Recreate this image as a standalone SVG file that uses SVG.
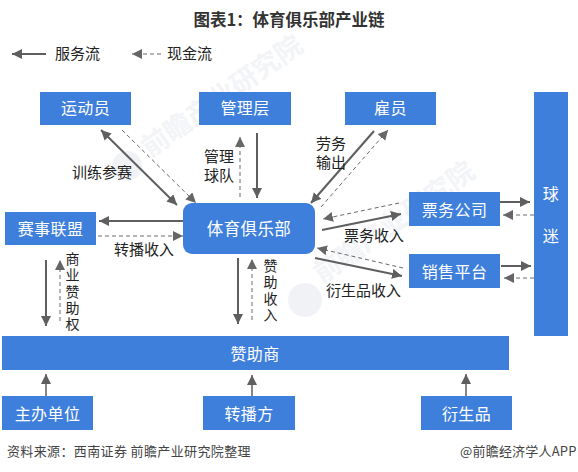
<svg xmlns="http://www.w3.org/2000/svg" width="578" height="472" viewBox="0 0 578 472">
<style>
text{font-family:"Noto Sans CJK SC","Liberation Sans",sans-serif}
.b{fill:#3f7fdc}
.n{fill:#fff;font-size:16px;text-anchor:middle;letter-spacing:.4px}
.l{fill:#222;font-size:15px}
.v{fill:#222;font-size:14px;text-anchor:middle}
.s{stroke:#5f5f5f;stroke-width:2;fill:none;marker-end:url(#a)}
.t{stroke:#5f5f5f;stroke-width:2;fill:none;marker-end:url(#a);marker-start:url(#r)}
.d{stroke:#6a6a6a;stroke-width:1;stroke-dasharray:4 3;fill:none;marker-end:url(#a2)}
.w{fill:#f2f4f7;font-size:27px;font-weight:700}
.g{fill:#f0f2f5}
</style>
<defs>
<marker id="a" markerUnits="userSpaceOnUse" markerWidth="12" markerHeight="12" refX="10" refY="5" orient="auto"><path d="M0 0L10 5L0 10Z" fill="#5f5f5f"/></marker>
<marker id="r" markerUnits="userSpaceOnUse" markerWidth="12" markerHeight="12" refX="0" refY="5" orient="auto"><path d="M10 0L0 5L10 10Z" fill="#5f5f5f"/></marker>
<marker id="a2" markerUnits="userSpaceOnUse" markerWidth="12" markerHeight="12" refX="10" refY="5" orient="auto"><path d="M0 0L10 5L0 10Z" fill="#666"/></marker>
</defs>
<rect width="578" height="472" fill="#fff"/>
<g id="watermark">
<circle class="g" cx="127" cy="166" r="15"/>
<circle class="g" cx="305" cy="300" r="17"/>
<text class="w" transform="translate(150 158) rotate(-35)">前瞻产业研究院</text>
<text class="w" transform="translate(322 284) rotate(-35)">前瞻产业研究院</text>
</g>
<text x="289" y="26" font-size="16.500" font-weight="700" fill="#333" text-anchor="middle" style="font-family:'Noto Sans CJK SC',serif">图表1：体育俱乐部产业链</text>
<g id="legend">
<path class="s" d="M46 54H12"/>
<path class="d" d="M161 54H132"/>
<text class="l" x="55" y="59">服务流</text>
<text class="l" x="167" y="59">现金流</text>
</g>
<g id="connectors">
<path class="t" d="M101 130L177 205"/>
<path class="d" d="M122 130L196 203"/>
<path class="d" d="M240 197V137"/>
<path class="s" d="M257 133V198"/>
<path class="s" d="M374 131L311 203"/>
<path class="d" d="M321 207L388 130"/>
<path class="s" d="M183 221H99"/>
<path class="d" d="M98 236H183"/>
<path class="d" d="M399 203L323 219"/>
<path class="s" d="M322 230L401 214"/>
<path class="d" d="M403 268L317 248"/>
<path class="s" d="M315 258L402 276"/>
<path class="s" d="M500 202H530"/>
<path class="d" d="M534 215H503"/>
<path class="s" d="M501 266H531"/>
<path class="d" d="M534 278H504"/>
<path class="s" d="M46 260V326"/>
<path class="d" d="M60 321V260"/>
<path class="s" d="M238 258V324"/>
<path class="d" d="M252 320V259"/>
<path class="s" d="M46 397V374" style="stroke-width:1.5"/>
<path class="s" d="M252 397V375" style="stroke-width:1.5"/>
<path class="s" d="M466 397V374" style="stroke-width:1.5"/>
</g>
<g id="n1"><rect class="b" x="40" y="92" width="91" height="33"/><text class="n" x="85.500" y="114">运动员</text></g>
<g id="n2"><rect class="b" x="199" y="92" width="92" height="33"/><text class="n" x="245" y="114">管理层</text></g>
<g id="n3"><rect class="b" x="345" y="92" width="91" height="33"/><text class="n" x="390.500" y="114">雇员</text></g>
<g id="n4"><rect class="b" x="534" y="92" width="34" height="244"/><text class="n" x="551" y="200">球<tspan x="551" y="242">迷</tspan></text></g>
<g id="n5"><rect class="b" x="409" y="192" width="91" height="34"/><text class="n" x="454.500" y="216">票务公司</text></g>
<g id="n6"><rect class="b" x="409" y="254" width="91" height="34"/><text class="n" x="454.500" y="278">销售平台</text></g>
<g id="n7"><rect class="b" x="5" y="212" width="91" height="33"/><text class="n" x="50.500" y="235">赛事联盟</text></g>
<g id="n8"><rect class="b" x="183" y="203" width="132" height="51" rx="9"/><text class="n" x="249" y="235" style="font-size:16.500px">体育俱乐部</text></g>
<g id="n9"><rect class="b" x="2" y="336" width="507" height="34"/><text class="n" x="255" y="360">赞助商</text></g>
<g id="n10"><rect class="b" x="2" y="396" width="91" height="34"/><text class="n" x="47.500" y="420">主办单位</text></g>
<g id="n11"><rect class="b" x="203" y="396" width="92" height="34"/><text class="n" x="249" y="420">转播方</text></g>
<g id="n12"><rect class="b" x="421" y="396" width="91" height="34"/><text class="n" x="466.500" y="420">衍生品</text></g>
<g id="labels">
<text class="l" x="72" y="178">训练参赛</text>
<text class="l" x="204" y="162">管理<tspan x="204" y="181">球队</tspan></text>
<text class="l" x="316" y="149">劳务<tspan x="316" y="168">输出</tspan></text>
<text class="l" x="114" y="255">转播收入</text>
<text class="l" x="344" y="241">票务收入</text>
<text class="l" x="326" y="296">衍生品收入</text>
<text class="v" x="72.500" y="264">商<tspan x="72.500" y="280">业</tspan><tspan x="72.500" y="297">赞</tspan><tspan x="72.500" y="313">助</tspan><tspan x="72.500" y="329">权</tspan></text>
<text class="v" x="270.500" y="271">赞<tspan x="270.500" y="287">助</tspan><tspan x="270.500" y="304">收</tspan><tspan x="270.500" y="320">入</tspan></text>
</g>
<text x="7" y="456" font-size="13" letter-spacing=".37" fill="#444">资料来源：西南证券 前瞻产业研究院整理</text>
<text x="460" y="456" font-size="13" letter-spacing=".2" fill="#444">@前瞻经济学人APP</text>
</svg>
